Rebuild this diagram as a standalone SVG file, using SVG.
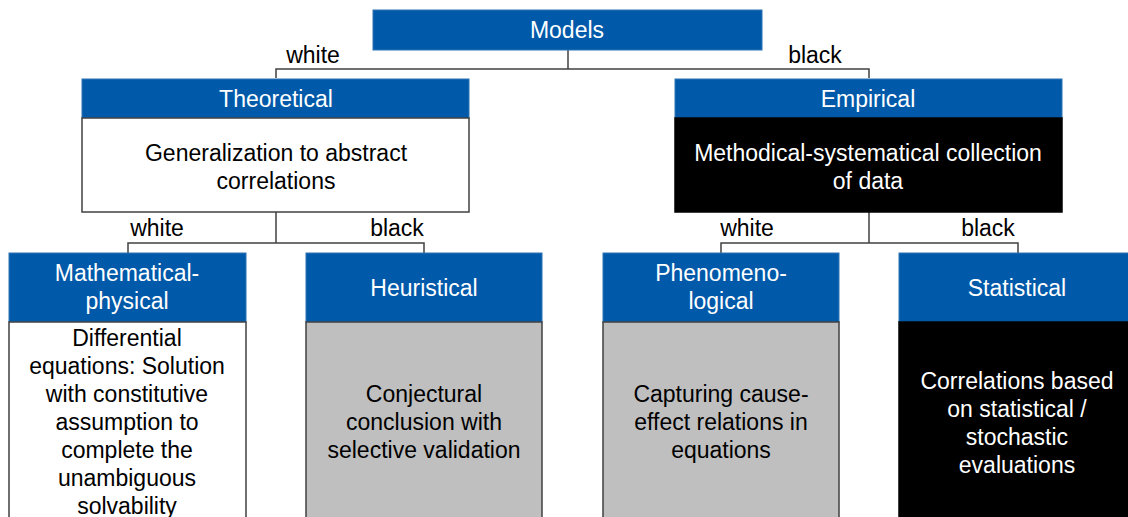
<svg xmlns="http://www.w3.org/2000/svg" width="1128" height="517" viewBox="0 0 1128 517">
<style>
text{font-family:"Liberation Sans",Arial,sans-serif;font-size:23px;text-anchor:middle}
.hd{fill:#0059A9;stroke:#2E75B6;stroke-width:1}
.ht{fill:#ffffff}
.bw{fill:#ffffff;stroke:#404040;stroke-width:1.5}
.bg{fill:#BFBFBF;stroke:#404040;stroke-width:1.5}
.bb{fill:#000000;stroke:#000000;stroke-width:1.5}
.dt{fill:#000000}
.wt{fill:#ffffff}
.lbl{fill:#000000}
.con{fill:none;stroke:#404040;stroke-width:1.5}
</style>
<g id="connectors">
<polyline class="con" points="568,50 568,69"/>
<polyline class="con" points="276,78 276,69 869,69 869,78"/>
<polyline class="con" points="276,212 276,243"/>
<polyline class="con" points="128,253 128,243 424,243 424,253"/>
<polyline class="con" points="869,212 869,243"/>
<polyline class="con" points="721,253 721,243 1018,243 1018,253"/>
</g>
<g id="labels">
<text class="lbl" x="313" y="63">white</text>
<text class="lbl" x="815" y="63">black</text>
<text class="lbl" x="157" y="236">white</text>
<text class="lbl" x="397" y="236">black</text>
<text class="lbl" x="747" y="236">white</text>
<text class="lbl" x="988" y="236">black</text>
</g>
<g id="models">
<rect class="hd" x="373" y="10" width="389" height="40"/>
<text class="ht" x="567" y="38">Models</text>
</g>
<g id="theoretical">
<rect class="hd" x="82" y="79" width="387" height="39"/>
<text class="ht" x="276" y="107">Theoretical</text>
<rect class="bw" x="82" y="118" width="387" height="94"/>
<text class="dt" x="276" y="161">Generalization to abstract</text>
<text class="dt" x="276" y="189">correlations</text>
</g>
<g id="empirical">
<rect class="hd" x="675" y="79" width="387" height="39"/>
<text class="ht" x="868" y="107">Empirical</text>
<rect class="bb" x="675" y="118" width="387" height="94"/>
<text class="wt" x="868" y="161">Methodical-systematical collection</text>
<text class="wt" x="868" y="189">of data</text>
</g>
<g id="mathematical">
<rect class="hd" x="9" y="253" width="237" height="69"/>
<text class="ht" x="127" y="281">Mathematical-</text>
<text class="ht" x="127" y="309">physical</text>
<rect class="bw" x="9" y="322" width="237" height="200"/>
<text class="dt" x="127" y="346">Differential</text>
<text class="dt" x="127" y="374">equations: Solution</text>
<text class="dt" x="127" y="402">with constitutive</text>
<text class="dt" x="127" y="430">assumption to</text>
<text class="dt" x="127" y="458">complete the</text>
<text class="dt" x="127" y="486">unambiguous</text>
<text class="dt" x="127" y="514">solvability</text>
</g>
<g id="heuristical">
<rect class="hd" x="306" y="253" width="236" height="69"/>
<text class="ht" x="424" y="296">Heuristical</text>
<rect class="bg" x="306" y="322" width="236" height="200"/>
<text class="dt" x="424" y="402">Conjectural</text>
<text class="dt" x="424" y="430">conclusion with</text>
<text class="dt" x="424" y="458">selective validation</text>
</g>
<g id="phenomenological">
<rect class="hd" x="603" y="253" width="236" height="69"/>
<text class="ht" x="721" y="281">Phenomeno-</text>
<text class="ht" x="721" y="309">logical</text>
<rect class="bg" x="603" y="322" width="236" height="200"/>
<text class="dt" x="721" y="402">Capturing cause-</text>
<text class="dt" x="721" y="430">effect relations in</text>
<text class="dt" x="721" y="458">equations</text>
</g>
<g id="statistical">
<rect class="hd" x="899" y="253" width="236" height="69"/>
<text class="ht" x="1017" y="296">Statistical</text>
<rect class="bb" x="899" y="322" width="236" height="200"/>
<text class="wt" x="1017" y="389">Correlations based</text>
<text class="wt" x="1017" y="417">on statistical /</text>
<text class="wt" x="1017" y="445">stochastic</text>
<text class="wt" x="1017" y="473">evaluations</text>
</g>
</svg>
